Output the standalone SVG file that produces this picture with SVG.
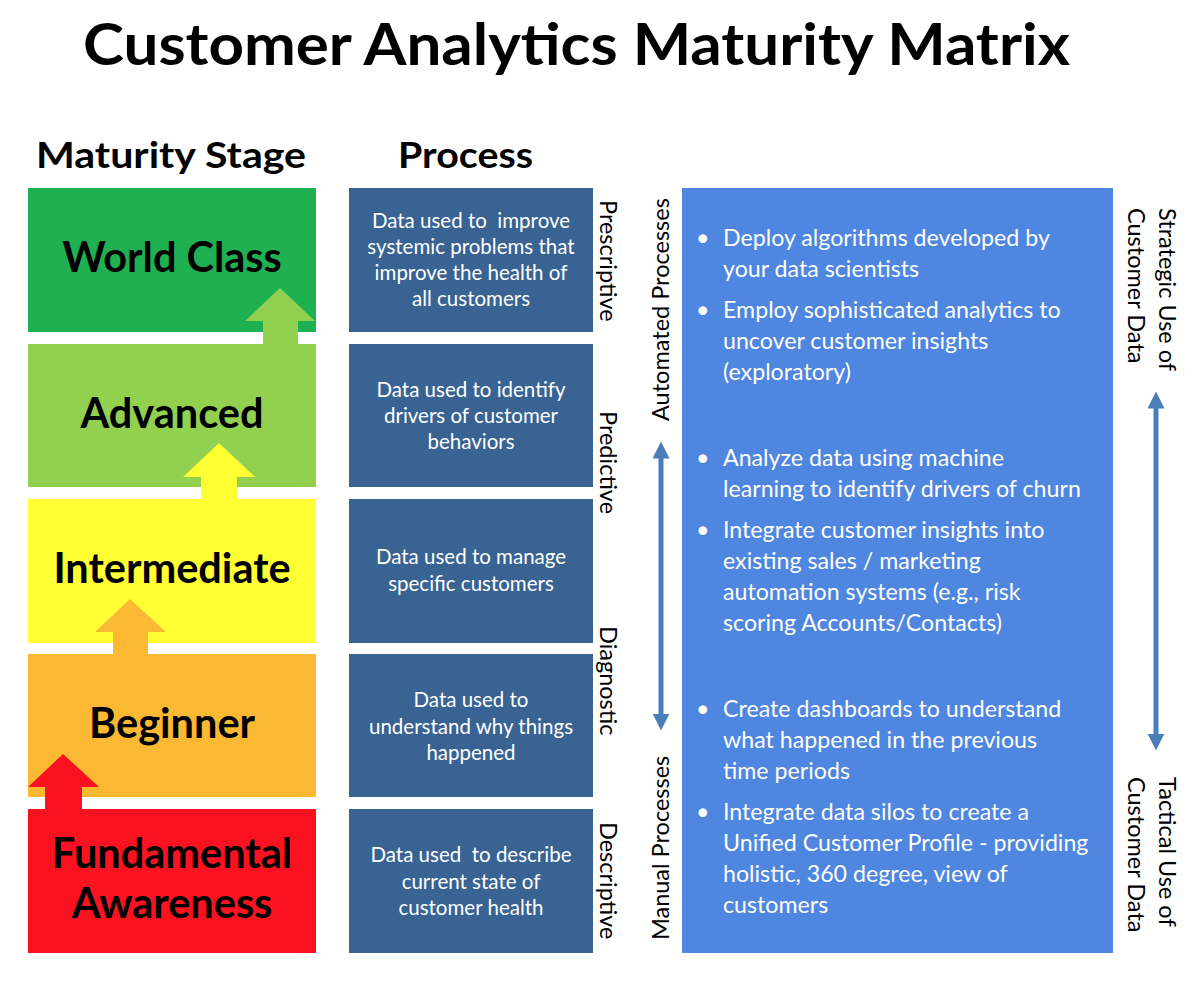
<svg xmlns="http://www.w3.org/2000/svg" width="1200" height="998" viewBox="0 0 1200 998">
<defs>
<style>
.title{font-family:Lato,"Open Sans","Liberation Sans",sans-serif;font-weight:bold;fill:#000}
.stage{font-family:Lato,"Open Sans","Liberation Sans",sans-serif;font-weight:bold;font-size:41.5px;fill:#000;text-anchor:middle}
.proc{font-family:Lato,"Open Sans","Liberation Sans",sans-serif;font-size:20.5px;fill:#fff;text-anchor:middle;white-space:pre}
.rot{font-family:Lato,"Open Sans","Liberation Sans",sans-serif;font-size:23.5px;fill:#000}
.bul{font-family:Lato,"Open Sans","Liberation Sans",sans-serif;font-size:23.2px;fill:#fff}
.pbox{fill:#386393}
.dbl{stroke:#4a7ebb;stroke-width:5;fill:none}
</style>
<marker id="ah" viewBox="0 0 10 10" refX="5" refY="5" markerWidth="3.4" markerHeight="3.4" orient="auto-start-reverse">
<path d="M0,0 L10,5 L0,10 z" fill="#4a7ebb"/>
</marker>
</defs>
<rect width="1200" height="998" fill="#fff"/>

<text class="title" x="83" y="65" font-size="58" textLength="987" lengthAdjust="spacingAndGlyphs">Customer Analytics Maturity Matrix</text>
<text class="title" x="36" y="168" font-size="36" textLength="270" lengthAdjust="spacingAndGlyphs">Maturity Stage</text>
<text class="title" x="398" y="168" font-size="36" textLength="135" lengthAdjust="spacingAndGlyphs">Process</text>

<g id="stage-world-class">
<rect x="28" y="188" width="288" height="144" fill="#1fb052"/>
<text class="stage" x="172" y="272">World Class</text>
</g>
<g id="stage-advanced">
<rect x="28" y="344" width="288" height="143" fill="#92d050"/>
<text class="stage" x="172" y="428">Advanced</text>
</g>
<g id="stage-intermediate">
<rect x="28" y="499" width="288" height="144" fill="#ffff33"/>
<text class="stage" x="172" y="583">Intermediate</text>
</g>
<g id="stage-beginner">
<rect x="28" y="654" width="288" height="143" fill="#fbb832"/>
<text class="stage" x="172" y="738">Beginner</text>
</g>
<g id="stage-fundamental">
<rect x="28" y="809" width="288" height="144" fill="#fb1220"/>
<text class="stage" x="172" y="868">Fundamental</text>
<text class="stage" x="172" y="918">Awareness</text>
</g>

<g id="connectors">
<polygon points="280,288 315,321 298,321 298,345 263,345 263,321 245,321" fill="#92d050"/>
<polygon points="219,443 255,477 237,477 237,500 201,500 201,477 183,477" fill="#ffff33"/>
<polygon points="130,599 166,632 148,632 148,655 113,655 113,632 95,632" fill="#fbb832"/>
<polygon points="63,754 99,787 82,787 82,810 45,810 45,787 28,787" fill="#fb1220"/>
<line class="dbl" x1="661" y1="450" x2="661" y2="722" marker-start="url(#ah)" marker-end="url(#ah)"/>
<line class="dbl" x1="1156" y1="400" x2="1156" y2="742" marker-start="url(#ah)" marker-end="url(#ah)"/>
</g>

<g id="process-prescriptive">
<rect class="pbox" x="349" y="188" width="244" height="144"/>
<text class="proc" x="471" y="228" xml:space="preserve">Data used to  improve</text>
<text class="proc" x="471" y="254">systemic problems that</text>
<text class="proc" x="471" y="280">improve the health of</text>
<text class="proc" x="471" y="306">all customers</text>
<text class="rot" transform="translate(600,200) rotate(90)">Prescriptive</text>
</g>
<g id="process-predictive">
<rect class="pbox" x="349" y="344" width="244" height="143"/>
<text class="proc" x="471" y="397">Data used to identify</text>
<text class="proc" x="471" y="423">drivers of customer</text>
<text class="proc" x="471" y="449">behaviors</text>
<text class="rot" transform="translate(600,411) rotate(90)">Predictive</text>
</g>
<g id="process-diagnostic">
<rect class="pbox" x="349" y="499" width="244" height="144"/>
<text class="proc" x="471" y="564">Data used to manage</text>
<text class="proc" x="471" y="591">specific customers</text>
<text class="rot" transform="translate(600,626) rotate(90)">Diagnostic</text>
</g>
<g id="process-descriptive-why">
<rect class="pbox" x="349" y="654" width="244" height="143"/>
<text class="proc" x="471" y="707">Data used to</text>
<text class="proc" x="471" y="734">understand why things</text>
<text class="proc" x="471" y="760">happened</text>
</g>
<g id="process-descriptive">
<rect class="pbox" x="349" y="809" width="244" height="144"/>
<text class="proc" x="471" y="862" xml:space="preserve">Data used  to describe</text>
<text class="proc" x="471" y="889">current state of</text>
<text class="proc" x="471" y="915">customer health</text>
<text class="rot" transform="translate(600,822) rotate(90)">Descriptive</text>
</g>

<g id="label-automated">
<text class="rot" transform="translate(669,421) rotate(-90)">Automated Processes</text>
</g>
<g id="label-manual">
<text class="rot" transform="translate(669,940) rotate(-90)">Manual Processes</text>
</g>

<g id="activities">
<rect x="682" y="188" width="431" height="765" fill="#4f86e0"/>
<g class="bul">
<text x="696" y="246">•</text><text x="723" y="246">Deploy algorithms developed by</text>
<text x="723" y="277">your data scientists</text>
<text x="696" y="318">•</text><text x="723" y="318">Employ sophisticated analytics to</text>
<text x="723" y="349">uncover customer insights</text>
<text x="723" y="380">(exploratory)</text>
<text x="696" y="466">•</text><text x="723" y="466">Analyze data using machine</text>
<text x="723" y="497">learning to identify drivers of churn</text>
<text x="696" y="538">•</text><text x="723" y="538">Integrate customer insights into</text>
<text x="723" y="569">existing sales / marketing</text>
<text x="723" y="600">automation systems (e.g., risk</text>
<text x="723" y="631">scoring Accounts/Contacts)</text>
<text x="696" y="717">•</text><text x="723" y="717">Create dashboards to understand</text>
<text x="723" y="748">what happened in the previous</text>
<text x="723" y="779">time periods</text>
<text x="696" y="820">•</text><text x="723" y="820">Integrate data silos to create a</text>
<text x="723" y="851">Unified Customer Profile - providing</text>
<text x="723" y="882">holistic, 360 degree, view of</text>
<text x="723" y="913">customers</text>
</g>
</g>

<g id="label-strategic">
<text class="rot" transform="translate(1159,208) rotate(90)">Strategic Use of</text>
<text class="rot" transform="translate(1128,208) rotate(90)">Customer Data</text>
</g>
<g id="label-tactical">
<text class="rot" transform="translate(1159,777) rotate(90)">Tactical Use of</text>
<text class="rot" transform="translate(1128,777) rotate(90)">Customer Data</text>
</g>
</svg>
